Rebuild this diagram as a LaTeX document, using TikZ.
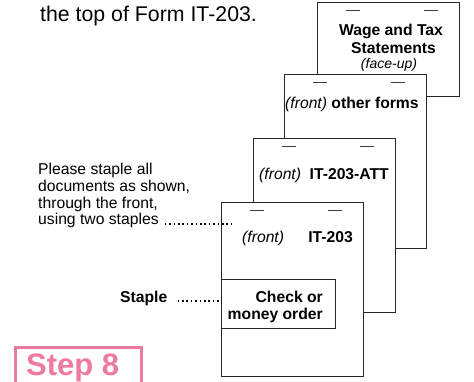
\documentclass[tikz,border=0pt]{standalone}
\usepackage{fontspec}
\setmainfont{Liberation Sans}
\usetikzlibrary{positioning}

\definecolor{steppink}{RGB}{238,122,158}
\newcommand\bodysize{\fontsize{15.7}{17}\selectfont}
\tikzset{
  sheet/.style={draw=black!85, fill=white, line width=1.3pt, inner sep=0pt,
    anchor=north west, minimum width=142pt, minimum height=174pt},
  staplemark/.style={draw=black!75, line width=1.5pt},
  leader/.style={line width=1.6pt, dash pattern=on 1.6pt off 2.8pt},
  txt/.style={inner sep=0pt, anchor=base west, font=\bodysize},
  boldtxt/.style={txt, font=\bodysize\bfseries},
  itxt/.style={txt, font=\bodysize\itshape},
}

\begin{document}
\begin{tikzpicture}[x=1pt, y=-1pt]
\useasboundingbox (0,0) rectangle (474,381);
\clip (0,0) rectangle (474,381);
% heading line left over from the page above
\node [txt, font=\fontsize{21.3}{25}\selectfont] (heading) at (40,21) {the top of Form IT-203.};
% the pile of forms, back to front
\node [sheet, minimum height=94pt] (wage) at (317,2) {};
\node [sheet] (other) at (284,74) {};
\node [sheet] (att) at (253,138) {};
\node [sheet] (main) at (221,202) {};
\node [sheet, minimum width=114pt, minimum height=49pt] (check) at (221,279) {};
% staple marks
\foreach \s in {wage,other,att,main} {
  \draw [staplemark] ([shift={(29,8.5)}]\s.north west) -- ++(14,0);
  \draw [staplemark] ([shift={(107,8.5)}]\s.north west) -- ++(14,0);
}
% labels on the forms
\node [boldtxt, anchor=base] (wage1) at (391,35) {Wage and Tax};
\node [boldtxt, anchor=base] (wage2) at (393.5,53) {Statements};
\node [txt, anchor=base, font=\fontsize{14}{16}\selectfont\itshape] (wage3) at (389,68) {(face-up)};
\node [txt] (othertxt) at (285,108) {\textit{(front)} \textbf{other forms}};
\node [itxt] (attfront) at (259,179) {(front)};
\node [boldtxt, anchor=base east] (atttxt) at (389,179) {IT-203-ATT};
\node [itxt] (mainfront) at (242,242) {(front)};
\node [boldtxt, anchor=base east] (maintxt) at (353,242) {IT-203};
\node [boldtxt, anchor=base east] (chk1) at (323,302) {Check or};
\node [boldtxt, anchor=base east] (chk2) at (323,319) {money order};
% notes on the left
\node [txt] (please1) at (38,174) {Please staple all};
\node [txt] (please2) at (38,191.5) {documents as shown,};
\node [txt] (please3) at (38,208) {through the front,};
\node [txt] (please4) at (38,224.5) {using two staples};
\coordinate (pleaseend) at (235,223.7);
\draw [leader] ([shift={(6,-0.8)}]please4.base east) -- (pleaseend);
\node [boldtxt] (staple) at (120,302) {Staple};
\draw [leader] ([shift={(10,-0.8)}]staple.base east) -- ([shift={(-2,-0.8)}]staple.base east -| check.west);
% step tag
\node [draw=steppink, line width=2.6pt, inner sep=0pt, anchor=north west,
  minimum width=126pt, minimum height=60pt] (stepbox) at (14,346) {};
\node [txt, text=steppink, font=\fontsize{31}{36}\selectfont\bfseries] (steptxt) at (26,375) {Step 8};
\end{tikzpicture}
\end{document}
